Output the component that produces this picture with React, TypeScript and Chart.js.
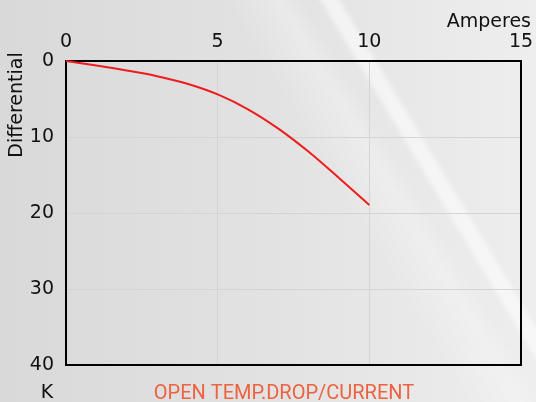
import React, { useEffect, useRef } from "react";
import { Chart, registerables } from "chart.js";

Chart.register(...registerables);

const amperes = [0, 1, 2, 3, 4, 5, 6, 7, 8, 9, 10];
const differentialK = [0, 0.6, 1.25, 2.0, 3.0, 4.4, 6.35, 8.9, 11.95, 15.4, 18.95];
const xTickValues = [0, 5, 10, 15];
const yTickValues = [0, 10, 20, 30, 40];
const chartTitle = "OPEN TEMP.DROP/CURRENT";
const xAxisTitle = "Amperes";
const yAxisTitle = "Differential";
const yUnitLabel = "K";

const TICK_FONT = "DejaVu Sans";

const framePlugin = {
  id: "frameAndLabels",
  beforeDatasetsDraw(chart: any) {
    const { ctx, chartArea } = chart;
    ctx.save();
    ctx.strokeStyle = "#000";
    ctx.lineWidth = 2;
    ctx.strokeRect(chartArea.left, chartArea.top, chartArea.right - chartArea.left, chartArea.bottom - chartArea.top);
    ctx.restore();
  },
  afterDraw(chart: any) {
    const { ctx } = chart;
    ctx.save();
    ctx.fillStyle = "#111";
    ctx.font = `19px "${TICK_FONT}"`;
    ctx.textBaseline = "alphabetic";
    ctx.textAlign = "right";
    ctx.fillText(xAxisTitle, 531, 27);

    ctx.textAlign = "center";
    ctx.fillText(yUnitLabel, 47, 398);

    ctx.save();
    ctx.translate(22, 105);
    ctx.rotate(-Math.PI / 2);
    ctx.textAlign = "center";
    ctx.fillText(yAxisTitle, 0, 0);
    ctx.restore();

    ctx.fillStyle = "#ee6240";
    ctx.font = `20px "Roboto"`;
    ctx.textAlign = "center";
    ctx.fillText(chartTitle, 284, 399);
    ctx.restore();
  },
};

export default function App() {
  const ref = useRef<HTMLCanvasElement | null>(null);

  useEffect(() => {
    if (!ref.current) return;
    const chart = new Chart(ref.current, {
      type: "line",
      data: {
        datasets: [
          {
            label: "Differential",
            data: amperes.map((a, i) => ({ x: a, y: differentialK[i] })),
            borderColor: "#ee1c1c",
            borderWidth: 2,
            pointRadius: 0,
            cubicInterpolationMode: "monotone",
            fill: false,
            clip: false as any,
          },
        ],
      },
      options: {
        responsive: false,
        animation: false,
        layout: { padding: { left: 0, top: 0, right: 15, bottom: 37 } },
        plugins: { legend: { display: false }, tooltip: { enabled: false }, title: { display: false } },
        scales: {
          x: {
            type: "linear",
            position: "top",
            min: 0,
            max: 15,
            afterBuildTicks: (scale: any) => {
              scale.ticks = xTickValues.map((v) => ({ value: v }));
            },
            afterFit: (scale: any) => {
              scale.height = 61;
              scale.paddingRight = 0;
              scale.paddingLeft = 0;
            },
            ticks: { color: "#111", font: { family: TICK_FONT, size: 19 }, padding: 8, maxRotation: 0 },
            grid: { color: "#d4d4d4", lineWidth: 1, drawTicks: false },
            border: { display: false },
          },
          y: {
            type: "linear",
            reverse: true,
            min: 0,
            max: 40,
            afterBuildTicks: (scale: any) => {
              scale.ticks = yTickValues.map((v) => ({ value: v }));
            },
            afterFit: (scale: any) => {
              scale.width = 66;
              scale.paddingTop = 0;
              scale.paddingBottom = 0;
            },
            ticks: { color: "#111", font: { family: TICK_FONT, size: 19 }, padding: 12 },
            grid: { color: "#d4d4d4", lineWidth: 1, drawTicks: false },
            border: { display: false },
          },
        },
      },
      plugins: [framePlugin],
    });
    return () => chart.destroy();
  }, []);

  return (
    <div
      style={{
        position: "fixed",
        left: 0,
        top: 0,
        width: 536,
        height: 402,
        background:
          "linear-gradient(59deg, rgba(255,255,255,0) 0%, rgba(255,255,255,0) 71.8%, rgba(255,255,255,0.55) 72.8%, rgba(255,255,255,0.55) 74.2%, rgba(255,255,255,0) 75.2%, rgba(255,255,255,0) 100%), linear-gradient(59deg, rgba(255,255,255,0) 60%, rgba(255,255,255,0.25) 67%, rgba(255,255,255,0) 70%), linear-gradient(90deg, #d9d9d9 0%, #e2e2e2 50%, #eeeeee 100%)",
      }}
    >
      <canvas ref={ref} width={536} height={402} />
    </div>
  );
}
